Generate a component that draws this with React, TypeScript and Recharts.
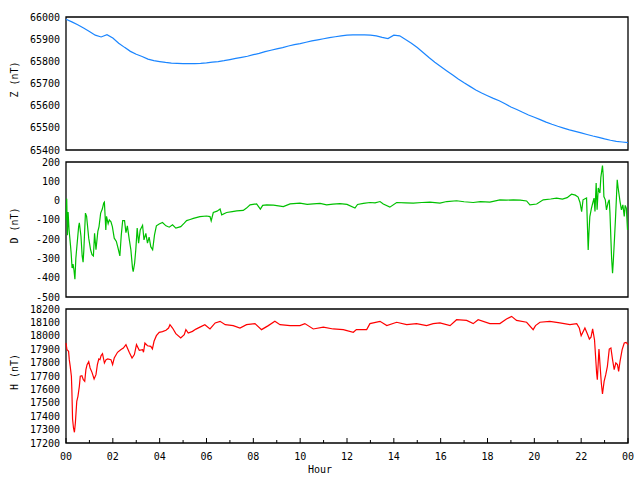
import React from 'react';
import { LineChart, Line, XAxis, YAxis, ReferenceArea } from 'recharts';

const FONT = '"DejaVu Sans Mono", "Liberation Mono", monospace';

// ---- Z component (nT) ----
const zHours = [
  0, 0.25, 0.5, 0.75, 1, 1.25, 1.5, 1.75, 2, 2.25, 2.5, 2.75, 3, 3.25, 3.5, 3.75,
  4, 4.25, 4.5, 4.75, 5, 5.25, 5.5, 5.75, 6, 6.25, 6.5, 6.75, 7, 7.25, 7.5, 7.75,
  8, 8.25, 8.5, 8.75, 9, 9.25, 9.5, 9.75, 10, 10.25, 10.5, 10.75, 11, 11.25, 11.5, 11.75,
  12, 12.25, 12.5, 12.75, 13, 13.25, 13.5, 13.75, 14, 14.25, 14.5, 14.75, 15, 15.25, 15.5, 15.75,
  16, 16.25, 16.5, 16.75, 17, 17.25, 17.5, 17.75, 18, 18.25, 18.5, 18.75, 19, 19.25, 19.5, 19.75,
  20, 20.25, 20.5, 20.75, 21, 21.25, 21.5, 21.75, 22, 22.25, 22.5, 22.75, 23, 23.25, 23.5, 23.75, 24,
];
const zValues = [
  65990, 65978, 65965, 65950, 65935, 65918, 65910, 65920, 65905, 65882, 65863, 65845, 65832, 65822, 65810, 65803,
  65799, 65795, 65792, 65791, 65790, 65790, 65790, 65791, 65793, 65796, 65799, 65803, 65808, 65813, 65818, 65823,
  65830, 65836, 65844, 65850, 65856, 65862, 65869, 65875, 65880, 65886, 65892, 65897, 65902, 65907, 65911, 65915,
  65918, 65919, 65919, 65919, 65918, 65915, 65908, 65903, 65918, 65915, 65898, 65882, 65862, 65840, 65817, 65796,
  65777, 65758, 65739, 65720, 65703, 65687, 65671, 65657, 65645, 65633, 65622, 65609, 65594, 65583, 65570, 65558,
  65548, 65537, 65526, 65516, 65507, 65499, 65491, 65484, 65477, 65470, 65463, 65457, 65450, 65444, 65439, 65436, 65433,
];
const zTicks = [65400, 65500, 65600, 65700, 65800, 65900, 66000];

// ---- D component (nT) ----
const dHours = [
  0.0, 0.03, 0.06, 0.09, 0.13, 0.19, 0.22, 0.26, 0.3, 0.34, 0.38, 0.42, 0.47, 0.54, 0.57, 0.64,
  0.69, 0.73, 0.76, 0.83, 0.88, 0.97, 1.05, 1.11, 1.17, 1.22, 1.28, 1.36, 1.41, 1.48, 1.55, 1.61,
  1.64, 1.7, 1.73, 1.8, 1.85, 1.92, 1.98, 2.06, 2.15, 2.24, 2.3, 2.36, 2.42, 2.5, 2.56, 2.62,
  2.7, 2.77, 2.84, 2.87, 2.93, 2.98, 3.04, 3.1, 3.17, 3.27, 3.33, 3.41, 3.48, 3.55, 3.62, 3.7,
  3.78, 3.86, 3.98, 4.12, 4.27, 4.41, 4.55, 4.69, 4.9, 5.05, 5.15, 5.3, 5.44, 5.72, 6.0, 6.15,
  6.2, 6.29, 6.45, 6.58, 6.65, 6.86, 7.1, 7.29, 7.57, 7.71, 7.86, 8.14, 8.3, 8.4, 8.57, 8.86,
  9.28, 9.57, 9.99, 10.3, 10.56, 10.85, 11.13, 11.4, 11.7, 12.0, 12.34, 12.45, 12.7, 12.98, 13.2, 13.41,
  13.55, 13.83, 14.12, 14.5, 14.83, 15.2, 15.54, 15.97, 16.26, 16.68, 17.0, 17.39, 17.7, 18.1, 18.53, 18.8,
  19.1, 19.4, 19.67, 19.81, 20.1, 20.38, 20.7, 20.95, 21.2, 21.4, 21.59, 21.75, 21.87, 21.95, 22.02, 22.08,
  22.23, 22.3, 22.33, 22.37, 22.44, 22.5, 22.55, 22.59, 22.64, 22.68, 22.73, 22.8, 22.84, 22.91, 22.94, 22.97,
  23.03, 23.08, 23.15, 23.2, 23.23, 23.3, 23.34, 23.37, 23.42, 23.47, 23.54, 23.58, 23.66, 23.72, 23.78, 23.84,
  23.88, 23.93, 23.98,
];
const dValues = [
  -100, 10, -180, -60, -150, -230, -273, -350, -330, -360, -408, -300, -230, -135, -115, -186,
  -287, -320, -260, -65, -82, -195, -255, -280, -287, -170, -255, -160, -135, -65, -44, -13,
  -8, -152, -82, -120, -100, -110, -135, -195, -212, -255, -287, -180, -104, -104, -166, -131,
  -200, -255, -350, -368, -325, -255, -143, -221, -152, -128, -204, -170, -221, -190, -239, -255,
  -178, -131, -121, -114, -131, -138, -126, -143, -135, -117, -104, -98, -92, -83, -80, -83,
  -105, -62, -55, -44, -74, -62, -57, -53, -51, -39, -22, -17, -44, -25, -22, -24,
  -31, -17, -13, -20, -17, -15, -22, -18, -16, -20, -39, -20, -15, -10, -12, -5,
  -18, -34, -10, -12, -13, -10, -8, -13, -5, -1, -6, -10, -5, -8, 4, 2,
  4, 2, -2, -22, -18, 4, 8, 13, 8, 15, 33, 28, 18, -10, -57, 4,
  13, -256, -170, -83, -39, -10, 13, -57, 91, -48, 65, 39, 120, 181, 134, 21,
  4, -48, -10, 4, -65, -299, -377, -320, -204, -83, 108, 65, -5, -48, -22, -82,
  -25, -40, -152,
];
const dTicks = [-500, -400, -300, -200, -100, 0, 100, 200];

// ---- H component (nT) ----
const hHours = [
  0.0, 0.04, 0.11, 0.14, 0.18, 0.23, 0.25, 0.28, 0.32, 0.36, 0.4, 0.46, 0.51, 0.57, 0.61, 0.68,
  0.74, 0.8, 0.85, 0.9, 0.97, 1.03, 1.11, 1.2, 1.28, 1.34, 1.4, 1.45, 1.5, 1.56, 1.64, 1.71,
  1.78, 1.92, 1.99, 2.06, 2.2, 2.35, 2.45, 2.56, 2.7, 2.82, 2.92, 3.01, 3.13, 3.27, 3.31, 3.37,
  3.48, 3.62, 3.69, 3.76, 3.86, 3.98, 4.12, 4.27, 4.38, 4.44, 4.55, 4.69, 4.9, 5.05, 5.12, 5.22,
  5.4, 5.55, 5.72, 5.93, 6.15, 6.37, 6.58, 6.8, 7.14, 7.43, 7.71, 8.07, 8.35, 8.64, 8.92, 9.14,
  9.57, 9.99, 10.2, 10.56, 10.99, 11.41, 11.84, 12.27, 12.4, 12.84, 12.98, 13.41, 13.7, 14.12, 14.55, 14.97,
  15.4, 15.68, 15.97, 16.4, 16.68, 17.11, 17.39, 17.6, 18.1, 18.53, 18.81, 19.03, 19.24, 19.67, 19.95, 20.05,
  20.24, 20.66, 21.09, 21.52, 21.81, 21.92, 22.0, 22.16, 22.28, 22.35, 22.42, 22.49, 22.57, 22.66, 22.69, 22.76,
  22.81, 22.86, 22.91, 22.98, 23.05, 23.12, 23.2, 23.27, 23.34, 23.41, 23.48, 23.55, 23.6, 23.66, 23.75, 23.84,
  23.92, 24.0,
];
const hValues = [
  17946, 17897, 17884, 17822, 17772, 17698, 17598, 17379, 17312, 17280, 17349, 17511, 17548, 17623, 17698, 17702,
  17673, 17660, 17747, 17785, 17807, 17760, 17727, 17678, 17710, 17785, 17827, 17822, 17852, 17867, 17797, 17822,
  17827, 17822, 17785, 17834, 17877, 17897, 17909, 17934, 17877, 17834, 17860, 17934, 17892, 17897, 17877, 17946,
  17926, 17921, 17902, 17959, 18001, 18026, 18031, 18041, 18058, 18083, 18058, 18016, 17984, 18008, 18046, 18021,
  18033, 18050, 18065, 18083, 18051, 18096, 18108, 18083, 18076, 18058, 18083, 18091, 18046, 18076, 18108, 18083,
  18076, 18076, 18091, 18051, 18065, 18051, 18046, 18026, 18046, 18046, 18091, 18108, 18076, 18101, 18083, 18091,
  18076, 18091, 18096, 18076, 18120, 18115, 18091, 18120, 18091, 18091, 18125, 18145, 18115, 18101, 18046, 18076,
  18101, 18108, 18096, 18083, 18091, 18058, 18001, 18058, 18008, 17976, 17990, 18051, 17970, 17722, 17672, 17901,
  17772, 17648, 17566, 17660, 17710, 17772, 17901, 17909, 17822, 17747, 17797, 17785, 17735, 17809, 17897, 17946,
  17951, 17934,
];
const hTicks = [17200, 17300, 17400, 17500, 17600, 17700, 17800, 17900, 18000, 18100, 18200];

// ---- X axis ----
const hourTicks = [0, 1, 2, 3, 4, 5, 6, 7, 8, 9, 10, 11, 12, 13, 14, 15, 16, 17, 18, 19, 20, 21, 22, 23, 24];
const hourLabels = ['00', '02', '04', '06', '08', '10', '12', '14', '16', '18', '20', '22', '00'];

const toRows = (hours: number[], values: number[]) => hours.map((t, i) => ({ t, v: values[i] }));
const zData = toRows(zHours, zValues);
const dData = toRows(dHours, dValues);
const hData = toRows(hHours, hValues);

const W = 640;
const LEFT = 66;
const RIGHT = 12;

const makeYLabel = (text: string, top: number, height: number) => () => {
  const cx = 14;
  const cy = top + height / 2 - 4;
  return (
    <text
      x={cx}
      y={cy}
      transform={`rotate(-90 ${cx} ${cy})`}
      textAnchor="middle"
      dominantBaseline="central"
      fontSize={10}
      fontFamily={FONT}
      fill="#000"
    >
      {text}
    </text>
  );
};

const HourTick = (props: any) => {
  const { x, y, payload } = props;
  const v = payload.value as number;
  const major = v % 2 === 0;
  return (
    <g>
      <line x1={x} x2={x} y1={y} y2={y - (major ? 5 : 3)} stroke="#000" strokeWidth={1} />
      {major && (
        <text x={x} y={y + 17} textAnchor="middle" fontSize={10} fontFamily={FONT} fill="#000">
          {hourLabels[v / 2]}
        </text>
      )}
    </g>
  );
};

const HourLabel = (props: any) => {
  const vb = props.viewBox || { y: 146 };
  return (
    <text x={320} y={vb.y + 30} textAnchor="middle" fontSize={10} fontFamily={FONT} fill="#000">
      Hour
    </text>
  );
};

const tickStyle = { fontSize: 10, fontFamily: FONT, fill: '#000' };

interface PanelProps {
  data: { t: number; v: number }[];
  top: number;
  height: number;
  marginTop: number;
  marginBottom: number;
  domain: [number, number];
  ticks: number[];
  color: string;
  label: string;
  showX?: boolean;
}

const Panel = ({ data, top, height, marginTop, marginBottom, domain, ticks, color, label, showX }: PanelProps) => {
  const plotH = height - marginTop - marginBottom - (showX ? 30 : 0);
  return (
    <div style={{ position: 'absolute', left: 0, top, width: W, height }}>
      <LineChart
        width={W}
        height={height}
        data={data}
        margin={{ top: marginTop, right: RIGHT, left: 0, bottom: marginBottom }}
      >
        <XAxis
          dataKey="t"
          type="number"
          domain={[0, 24]}
          ticks={hourTicks}
          interval={0}
          hide={!showX}
          height={showX ? 30 : 0}
          axisLine={false}
          tickLine={false}
          tickSize={0}
          tickMargin={0}
          tick={<HourTick />}
          label={showX ? { content: <HourLabel /> } : undefined}
        />
        <YAxis
          type="number"
          domain={domain}
          ticks={ticks}
          interval={0}
          width={LEFT}
          axisLine={false}
          tickLine={false}
          tickSize={0}
          tickMargin={6}
          tick={tickStyle}
          allowDataOverflow
          label={{ content: makeYLabel(label, marginTop, plotH) }}
        />
        <Line
          type="linear"
          dataKey="v"
          stroke={color}
          strokeWidth={1.2}
          dot={false}
          isAnimationActive={false}
        />
        <ReferenceArea
          x1={0}
          x2={24}
          y1={domain[0]}
          y2={domain[1]}
          fill="none"
          fillOpacity={0}
          stroke="#000"
          strokeWidth={1.3}
          ifOverflow="visible"
        />
      </LineChart>
    </div>
  );
};

export default function App() {
  return (
    <div style={{ position: 'absolute', left: 0, top: 0, width: 640, height: 480, background: '#fff' }}>
      <Panel data={zData} top={0} height={160} marginTop={17} marginBottom={10} domain={[65400, 66000]} ticks={zTicks} color="#1a85ff" label="Z (nT)" />
      <Panel data={dData} top={150} height={157} marginTop={12} marginBottom={10} domain={[-500, 200]} ticks={dTicks} color="#00c000" label="D (nT)" />
      <Panel data={hData} top={297} height={183} marginTop={12} marginBottom={7} domain={[17200, 18200]} ticks={hTicks} color="#ff0000" label="H (nT)" showX />
    </div>
  );
}
